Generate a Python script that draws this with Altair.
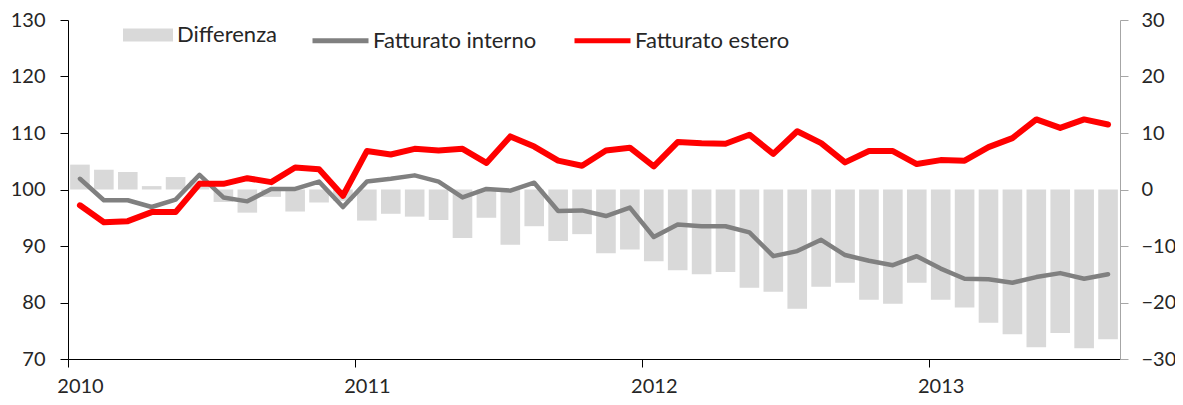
import altair as alt
import pandas as pd

# Monthly data, Jan 2010 - Aug 2013
years = ["2010", "2011", "2012", "2013"]
interno = [101.9, 98.1, 98.1, 96.9, 98.2, 102.6, 98.6, 97.9, 100.1, 100.1, 101.4, 96.9,
           101.4, 101.9, 102.5, 101.4, 98.6, 100.1, 99.8, 101.2, 96.2, 96.3, 95.3, 96.8,
           91.6, 93.8, 93.5, 93.5, 92.4, 88.2, 89.1, 91.1, 88.4, 87.4, 86.6, 88.2,
           86.0, 84.2, 84.1, 83.5, 84.5, 85.2, 84.2, 85.0]
estero = [97.2, 94.2, 94.4, 96.0, 96.0, 101.0, 101.0, 102.0, 101.3, 103.9, 103.6, 98.9,
          106.8, 106.2, 107.2, 106.9, 107.2, 104.7, 109.4, 107.6, 105.1, 104.2, 106.9, 107.4,
          104.1, 108.4, 108.2, 108.1, 109.7, 106.3, 110.3, 108.2, 104.8, 106.8, 106.8, 104.5,
          105.2, 105.1, 107.5, 109.1, 112.4, 110.9, 112.4, 111.5]
differenza = [4.4, 3.5, 3.1, 0.6, 2.2, 1.6, -2.2, -4.1, -1.3, -3.9, -2.3, -2.0,
              -5.5, -4.3, -4.8, -5.4, -8.6, -5.0, -9.8, -6.5, -9.1, -7.9, -11.3, -10.6,
              -12.7, -14.3, -15.0, -14.6, -17.4, -18.1, -21.1, -17.2, -16.5, -19.5, -20.2, -16.5,
              -19.5, -20.9, -23.6, -25.6, -27.9, -25.4, -28.1, -26.5]

n = len(interno)
idx = list(range(n))
df = pd.DataFrame({
    "m": idx,
    "m0": [i + 0.09 for i in idx],
    "m1": [i + 0.91 for i in idx],
    "Differenza": differenza,
    "bar": ["Differenza"] * n,
})
mc = [i + 0.5 for i in idx]
df_int = pd.DataFrame({"mc": mc, "v": interno, "serie": "Fatturato interno"})
df_est = pd.DataFrame({"mc": mc, "v": estero, "serie": "Fatturato estero"})

FONT = "Lato"
TXT = "#262626"

xscale = alt.Scale(domain=[0, n], nice=False, zero=False)
xaxis = alt.Axis(values=[0, 12, 24, 36], labelExpr="'' + (2010 + datum.value / 12)",
                 labelOffset=12, labelFlush=False, grid=False, tickSize=8, labelPadding=9,
                 labelFontSize=20, labelFont=FONT, labelColor=TXT,
                 domainColor="#000000", tickColor="#000000", title=None)

bars = alt.Chart(df).mark_bar(color="#d9d9d9").encode(
    x=alt.X("m0:Q", scale=xscale, axis=xaxis),
    x2="m1:Q",
    y=alt.Y("Differenza:Q", scale=alt.Scale(domain=[-30, 30], nice=False),
            axis=alt.Axis(orient="right", values=[-30, -20, -10, 0, 10, 20, 30], grid=False,
                          tickSize=8, labelPadding=13, labelFontSize=20, labelFont=FONT,
                          labelColor=TXT, domainColor="#a6a6a6", tickColor="#a6a6a6",
                          labelFlush=False, title=None)),
    y2=alt.datum(0),
    fill=alt.Fill("bar:N", scale=alt.Scale(domain=["Differenza"], range=["#d9d9d9"]),
                  legend=alt.Legend(title=None, orient="none", legendX=55, legendY=-10,
                                    symbolType="M-1,-0.26H1V0.26H-1Z", symbolSize=2500,
                                    symbolStrokeWidth=0, labelFontSize=22, labelFont=FONT,
                                    labelColor=TXT, labelOffset=4, labelLimit=300, padding=0)),
)

stroke_scale = alt.Scale(domain=["Fatturato interno", "Fatturato estero"],
                         range=["#808080", "#ff0000"])
yleft = alt.Y("v:Q", scale=alt.Scale(domain=[70, 130], nice=False),
              axis=alt.Axis(orient="left", values=[70, 80, 90, 100, 110, 120, 130], grid=False,
                            tickSize=8, labelPadding=15, labelFontSize=20, labelFont=FONT,
                            labelColor=TXT, domainColor="#000000", tickColor="#000000",
                            labelFlush=False, title=None))
line_legend = alt.Legend(title=None, orient="none", legendX=242, legendY=-10, direction="horizontal",
                         symbolType="stroke", symbolSize=3136, symbolStrokeWidth=5,
                         labelFontSize=22, labelFont=FONT, labelColor=TXT, labelOffset=2,
                         labelLimit=300, columnPadding=27, padding=0)

line_int = alt.Chart(df_int).mark_line(strokeWidth=4.5, strokeCap="round", strokeJoin="round").encode(
    x=alt.X("mc:Q", scale=xscale),
    y=yleft,
    stroke=alt.Stroke("serie:N", scale=stroke_scale, legend=line_legend, sort=None),
)
line_est = alt.Chart(df_est).mark_line(strokeWidth=6, strokeCap="round", strokeJoin="round").encode(
    x=alt.X("mc:Q", scale=xscale),
    y=alt.Y("v:Q", scale=alt.Scale(domain=[70, 130], nice=False)),
    stroke=alt.Stroke("serie:N", scale=stroke_scale, legend=line_legend, sort=None),
)

lines = alt.layer(line_int, line_est)

chart = alt.layer(bars, lines).resolve_scale(y="independent").properties(
    width=1052, height=339,
    autosize=alt.AutoSizeParams(type="none"),
    padding={"left": 60, "top": 12, "right": 55, "bottom": 38},
).configure_view(stroke=None)

chart.save("out.html", embed_options={"renderer": "svg", "actions": False})
